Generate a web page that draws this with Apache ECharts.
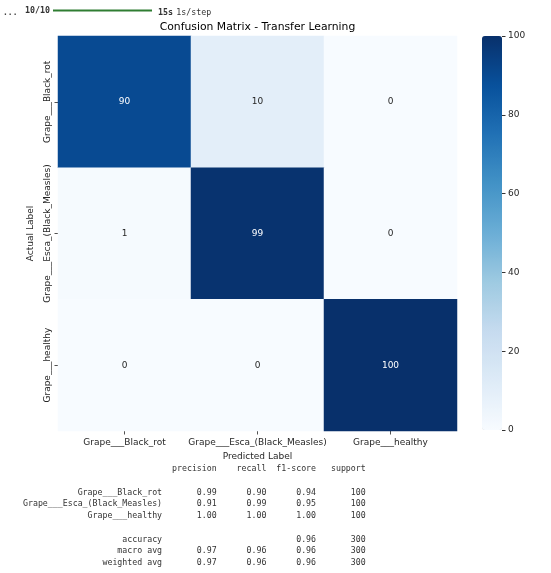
<!DOCTYPE html>
<html><head><meta charset="utf-8">
<script src="https://cdn.jsdelivr.net/npm/echarts@6/dist/echarts.min.js"></script>
<style>html,body{margin:0;padding:0;background:#fff}#c{width:551px;height:573px}</style>
</head><body><div id="c"></div>
<script>
const classes = ['Grape___Black_rot', 'Grape___Esca_(Black_Measles)', 'Grape___healthy'];
// rows = actual, cols = predicted
const matrix = [
  [90, 10, 0],
  [1, 99, 0],
  [0, 0, 100]
];
const colorbarTicks = [0, 20, 40, 60, 80, 100];
const reportHeaders = ['precision', 'recall', 'f1-score', 'support'];
const precision = [0.99, 0.91, 1.00];
const recall = [0.90, 0.99, 1.00];
const f1score = [0.94, 0.95, 1.00];
const support = [100, 100, 100];
const accuracy = 0.96;
const totalSupport = 300;
const macroAvg = [0.97, 0.96, 0.96];
const weightedAvg = [0.97, 0.96, 0.96];
const blues = ['#f7fbff', '#deebf7', '#c6dbef', '#9ecae1', '#6baed6', '#4292c6', '#2171b5', '#08519c', '#08306b'];

const heatData = [];
matrix.forEach((row, y) => row.forEach((v, x) => {
  heatData.push({ value: [x, y, v], label: { color: v > 50 ? '#ffffff' : '#262626' } });
}));

// classification report text (sklearn layout)
const W = 28;
const pad = (s, n) => String(s).padStart(n, ' ');
const f2 = v => v.toFixed(2);
const lines = [];
lines.push(pad('', W) + ' ' + reportHeaders.map(h => ' ' + pad(h, 9)).join(''));
lines.push('');
classes.forEach((c, i) => {
  lines.push(pad(c, W) + ' ' + [precision[i], recall[i], f1score[i]].map(v => ' ' + pad(f2(v), 9)).join('') + ' ' + pad(support[i], 9));
});
lines.push('');
lines.push(pad('accuracy', W) + ' ' + ' ' + pad('', 9) + ' ' + pad('', 9) + ' ' + pad(f2(accuracy), 9) + ' ' + pad(totalSupport, 9));
lines.push(pad('macro avg', W) + ' ' + macroAvg.map(v => ' ' + pad(f2(v), 9)).join('') + ' ' + pad(totalSupport, 9));
lines.push(pad('weighted avg', W) + ' ' + weightedAvg.map(v => ' ' + pad(f2(v), 9)).join('') + ' ' + pad(totalSupport, 9));

const chart = echarts.init(document.getElementById('c'), null, { renderer: 'canvas' });
const txt = '#262626';
const sans = 'DejaVu Sans';
const mono = 'DejaVu Sans Mono';

chart.setOption({
  animation: false,
  backgroundColor: '#ffffff',
  title: {
    text: 'Confusion Matrix - Transfer Learning',
    left: 252.5, textAlign: 'center', top: 17,
    textStyle: { fontFamily: sans, fontSize: 10.8, fontWeight: 'normal', color: '#000' }
  },
  grid: [
    { left: 58, top: 36, width: 399, height: 395 },
    { left: 482, top: 36, width: 20, height: 394, z: 10 }
  ],
  xAxis: [
    {
      type: 'category', data: classes, gridIndex: 0,
      axisLine: { show: false },
      axisTick: { show: true, alignWithLabel: true, length: 3.5, lineStyle: { color: txt, width: 0.8 } },
      axisLabel: { fontFamily: sans, fontSize: 9, color: txt, margin: 7, interval: 0 },
      splitLine: { show: false },
      name: 'Predicted Label', nameLocation: 'middle', nameGap: 21,
      nameTextStyle: { fontFamily: sans, fontSize: 9, color: txt }
    },
    { type: 'value', gridIndex: 1, show: false, min: 0, max: 1 }
  ],
  yAxis: [
    {
      type: 'category', data: classes, gridIndex: 0, inverse: true,
      axisLine: { show: false },
      axisTick: { show: true, alignWithLabel: true, length: 3.5, lineStyle: { color: txt, width: 0.8 } },
      axisLabel: { fontFamily: sans, fontSize: 9, color: txt, margin: 6, rotate: 90, interval: 0 },
      splitLine: { show: false },
      name: 'Actual Label', nameLocation: 'middle', nameGap: 18, nameRotate: 90,
      nameTextStyle: { fontFamily: sans, fontSize: 9, color: txt }
    },
    {
      type: 'value', gridIndex: 1, min: 0, max: 100, interval: 20, position: 'right', z: 20,
      axisLine: { show: false, onZero: false },
      axisTick: { show: true, inside: false, length: 3.5, lineStyle: { color: '#333', width: 1 } },
      axisLabel: { fontFamily: sans, fontSize: 9, color: txt, margin: 6,
        formatter: v => colorbarTicks.includes(v) ? String(v) : '' },
      splitLine: { show: false }
    }
  ],
  visualMap: {
    type: 'continuous', min: 0, max: 100, seriesIndex: 0, z: 1,
    calculable: false, realtime: false, hoverLink: false,
    itemWidth: 20, itemHeight: 394, left: 477, top: 31, padding: 5,
    text: ['', ''], showLabel: false,
    inRange: { color: blues }
  },
  series: [{
    type: 'heatmap', xAxisIndex: 0, yAxisIndex: 0,
    data: heatData,
    label: { show: true, fontFamily: sans, fontSize: 9 },
    itemStyle: { borderWidth: 0 },
    emphasis: { disabled: true }
  }],
  graphic: [
    { type: 'text', left: 3, top: 9, style: { text: '...', font: 'bold 8px ' + mono, fill: '#444' } },
    { type: 'text', left: 25, top: 7, style: { text: '10/10', font: 'bold 8.3px ' + mono, fill: '#333' } },
    { type: 'line', shape: { x1: 53, y1: 10.5, x2: 152, y2: 10.5 }, style: { stroke: '#2f7d32', lineWidth: 2 } },
    { type: 'text', left: 158, top: 7, style: {
        text: '{b|15s} {n|1s/step}',
        rich: { b: { font: 'bold 8.3px ' + mono, fill: '#333' }, n: { font: '8.3px ' + mono, fill: '#333' } } } },
    { type: 'text', x: 23, y: 463.1, style: {
        text: lines.join('\n'), font: '8.25px ' + mono, fill: '#333', lineHeight: 11.75,
        verticalAlign: 'top', align: 'left' } }
  ]
});
</script></body></html>
